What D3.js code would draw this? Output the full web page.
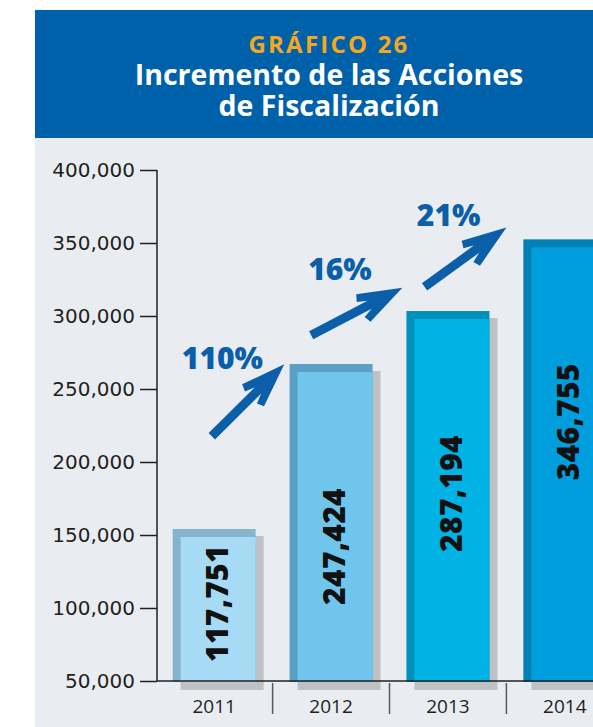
<!DOCTYPE html>
<html>
<head>
<meta charset="utf-8">
<script src="https://cdn.jsdelivr.net/npm/d3@7"></script>
<style>
  html, body { margin: 0; padding: 0; background: #ffffff; }
  svg { display: block; }
</style>
</head>
<body>
<div id="graf"></div>
<script>
// !DATOS
const years = ['2011', '2012', '2013', '2014']
// valores que se leen en las barras
const acciones = [117751, 247424, 287194, 346755]
// altura a la que llega cada barra en el dibujo original (segun el eje)
const alturaBarras = [154100, 267100, 303400, 352500]
const yTicks = [50000, 100000, 150000, 200000, 250000, 300000, 350000, 400000]
const cambios = ['110%', '16%', '21%']
// flechas: [posicion en años (0 = 2011), valor del eje]
const flechaDesde = [[-0.02, 217600], [0.83, 286800], [1.8, 319900]]
const flechaHasta = [[0.6, 266900], [1.61, 319400], [2.5, 360700]]

const colorBorde = ['#86b4cc', '#5a9fc4', '#0090b9', '#0080b3']
const colorRelleno = ['#a7daf4', '#6fc5ec', '#00b3e4', '#009edc']

const anchoTotal = 593
const altoTotal = 727

const svg = d3
  .select('#graf')
  .append('svg')
  .attr('width', anchoTotal)
  .attr('height', altoTotal)

// !FONDO Y TITULO
svg.append('rect')
  .attr('x', 35)
  .attr('y', 10)
  .attr('width', anchoTotal - 35)
  .attr('height', altoTotal - 10)
  .attr('fill', '#e9edf1')

svg.append('rect')
  .attr('x', 35)
  .attr('y', 10)
  .attr('width', anchoTotal - 35)
  .attr('height', 128)
  .attr('fill', '#0061ab')

// un solo texto con tres renglones
const titulo = svg.append('text')
  .attr('font-family', "'Open Sans', sans-serif")
  .attr('font-weight', 'bold')
  .attr('text-anchor', 'middle')

titulo.append('tspan')
  .attr('x', 329)
  .attr('y', 53)
  .attr('font-size', 24)
  .attr('letter-spacing', 2.2)
  .attr('fill', '#f4a81d')
  .text('GRÁFICO 26')

titulo.append('tspan')
  .attr('x', 329)
  .attr('y', 85)
  .attr('font-size', 28.5)
  .attr('fill', '#ffffff')
  .text('Incremento de las Acciones')

titulo.append('tspan')
  .attr('x', 329)
  .attr('y', 116)
  .attr('font-size', 28.5)
  .attr('fill', '#ffffff')
  .text('de Fiscalización')

// !ESCALADORES
const x = d3
  .scaleBand()
  .domain(years)
  .range([157, 622])
  .paddingInner(0.29)
  .paddingOuter(0.134)

const y = d3.scaleLinear().domain([50000, 400000]).range([681, 170])

const centro = (i) => x(years[0]) + x.bandwidth() / 2 + i * x.step()

// !BARRAS
const datos = years.map((d, i) => ({
  year: d,
  valor: acciones[i],
  alto: alturaBarras[i],
  borde: colorBorde[i],
  relleno: colorRelleno[i],
}))

const barras = svg.append('g')
  .selectAll('g')
  .data(datos)
  .join('g')

// sombra
barras.append('rect')
  .attr('x', (d) => x(d.year) + 8)
  .attr('y', (d) => y(d.alto) + 7)
  .attr('width', x.bandwidth())
  .attr('height', (d) => y(50000) - y(d.alto) + 2)
  .attr('fill', '#bfc1c4')

barras.append('rect')
  .attr('x', (d) => x(d.year))
  .attr('y', (d) => y(d.alto))
  .attr('width', x.bandwidth())
  .attr('height', (d) => y(50000) - y(d.alto) + 1)
  .attr('fill', (d) => d.borde)

barras.append('rect')
  .attr('x', (d) => x(d.year) + 8)
  .attr('y', (d) => y(d.alto) + 8)
  .attr('width', x.bandwidth() - 8)
  .attr('height', (d) => y(50000) - y(d.alto) - 7)
  .attr('fill', (d) => d.relleno)

// etiquetas de valor (rotadas)
const fmt = d3.format(',d')
barras.append('text')
  .attr('font-family', "'Open Sans', sans-serif")
  .attr('font-weight', 800)
  .attr('font-size', 30)
  .attr('letter-spacing', 0.3)
  .attr('fill', '#111111')
  .attr('dy', '0.36em')
  .each(function (d) {
    const t = d3.select(this).text(fmt(d.valor))
    const largo = this.getComputedTextLength()
    let arriba = y(d.alto) + 124
    if (arriba + largo > y(50000) - 19) arriba = y(50000) - 19 - largo
    t.attr('text-anchor', 'start')
      .attr(
        'transform',
        `translate(${x(d.year) + x.bandwidth() / 2 + 3}, ${arriba + largo}) rotate(-90)`
      )
  })

// !EJES
const ejeY = svg.append('g')
  .attr('transform', 'translate(157, 0)')
  .call(
    d3.axisLeft(y)
      .tickValues(yTicks)
      .tickSize(17)
      .tickPadding(5)
      .tickFormat((d) => fmt(d))
  )
ejeY.select('.domain').attr('d', `M0,${y(400000)}V${y(50000)}`)
ejeY.selectAll('line, path').attr('stroke', '#231f20').attr('stroke-width', 1.5)
ejeY.selectAll('text')
  .attr('font-family', "'DejaVu Sans', sans-serif")
  .attr('font-size', 20)
  .attr('fill', '#231f20')

svg.append('line')
  .attr('x1', 157)
  .attr('x2', anchoTotal)
  .attr('y1', y(50000))
  .attr('y2', y(50000))
  .attr('stroke', '#231f20')
  .attr('stroke-width', 1.5)

// separadores entre años
svg.append('g')
  .selectAll('line')
  .data(years.slice(1))
  .join('line')
  .attr('x1', (d, i) => centro(i + 0.5))
  .attr('x2', (d, i) => centro(i + 0.5))
  .attr('y1', y(50000) + 2)
  .attr('y2', y(50000) + 33)
  .attr('stroke', '#58595b')
  .attr('stroke-width', 1.5)

svg.append('g')
  .selectAll('text')
  .data(years)
  .join('text')
  .attr('x', (d) => x(d) + x.bandwidth() / 2)
  .attr('y', 713)
  .attr('text-anchor', 'middle')
  .attr('font-family', "'Open Sans', sans-serif")
  .attr('font-size', 19)
  .attr('fill', '#231f20')
  .text((d) => d)

// !FLECHAS DE CRECIMIENTO
const azul = '#0a5fa8'
const flechas = cambios.map((c, i) => {
  const x0 = centro(flechaDesde[i][0])
  const y0 = y(flechaDesde[i][1])
  const x1 = centro(flechaHasta[i][0])
  const y1 = y(flechaHasta[i][1])
  return { texto: c, x0, y0, x1, y1 }
})

function puntosFlecha(f) {
  const dx = f.x1 - f.x0
  const dy = f.y1 - f.y0
  const largo = Math.hypot(dx, dy)
  const u = [dx / largo, dy / largo]
  const n = [-u[1], u[0]]
  const forma = [
    [0, 0], [-44, -15.5], [-47, -8.5], [-37, -4.5], [-largo, -4.5],
    [-largo, 4.5], [-37, 4.5], [-47, 8.5], [-44, 15.5],
  ]
  return forma
    .map(([a, b]) => [f.x1 + a * u[0] + b * n[0], f.y1 + a * u[1] + b * n[1]])
    .map((p) => p.join(','))
    .join(' ')
}

const gFlechas = svg.append('g')

gFlechas.selectAll('polygon')
  .data(flechas)
  .join('polygon')
  .attr('points', (d) => puntosFlecha(d))
  .attr('fill', azul)

gFlechas.selectAll('text')
  .data(flechas)
  .join('text')
  .attr('x', (d) => (d.x0 + d.x1) / 2 + 15)
  .attr('y', (d) => (d.y0 + d.y1) / 2 - 31)
  .attr('text-anchor', 'end')
  .attr('font-family', "'Open Sans', sans-serif")
  .attr('font-weight', 800)
  .attr('font-size', 30)
  .attr('fill', azul)
  .text((d) => d.texto)
</script>
</body>
</html>
